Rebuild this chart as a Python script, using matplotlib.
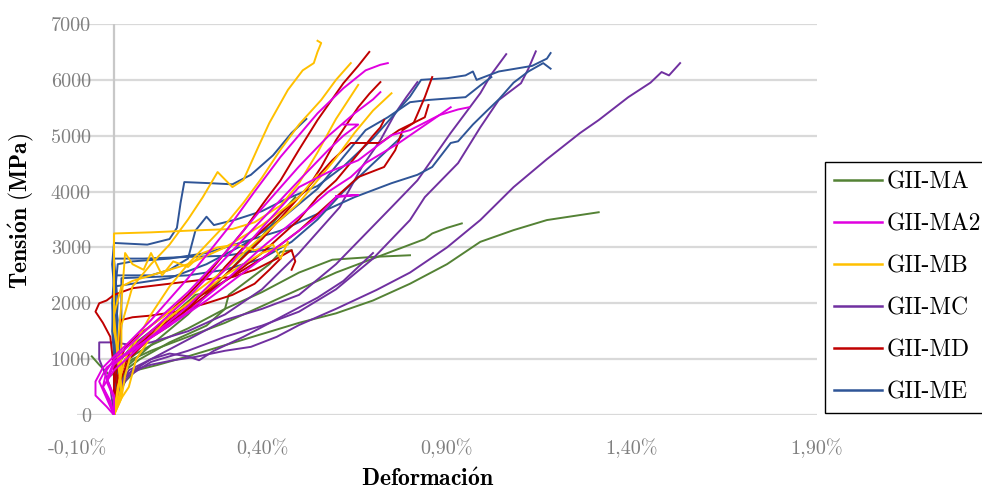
import matplotlib
matplotlib.use("Agg")
import matplotlib.pyplot as plt

plt.rcParams['font.family'] = ['cmr10', 'DejaVu Serif']
plt.rcParams['mathtext.fontset'] = 'cm'
plt.rcParams['axes.unicode_minus'] = False

# ==========================
# DATA  (strain in %, stress in MPa)
# ==========================
series_names = ["GII-MA", "GII-MA2", "GII-MB", "GII-MC", "GII-MD", "GII-ME"]
series_colors = ["#548235", "#E000E0", "#FFC000", "#7030A0", "#C00000", "#2F5597"]

x_ticks = [-0.1, 0.4, 0.9, 1.4, 1.9]
x_tick_labels = ["-0,10%", "0,40%", "0,90%", "1,40%", "1,90%"]
y_ticks = [0, 1000, 2000, 3000, 4000, 5000, 6000, 7000]
y_tick_labels = ["0", "1000", "2000", "3000", "4000", "5000", "6000", "7000"]

gii_ma = [
    ([0, 0.01, 0.03, 0.06, 0.12, 0.2, 0.3, 0.4, 0.5, 0.6, 0.7, 0.8, 0.9, 0.99, 1.08, 1.17, 1.26, 1.31],
     [0, 300, 600, 800, 900, 1050, 1250, 1450, 1650, 1820, 2050, 2350, 2700, 3100, 3310, 3490, 3580, 3630]),
    ([-0.06, -0.04, -0.01, 0.01, 0.05, 0.1, 0.2, 0.3, 0.4, 0.5, 0.6, 0.7, 0.8, 0.84, 0.86, 0.9, 0.94],
     [1050, 900, 700, 800, 1000, 1150, 1400, 1650, 1950, 2250, 2550, 2800, 3050, 3150, 3250, 3350, 3430]),
    ([0, 0.0, 0.02, 0.06, 0.1, 0.2, 0.3, 0.4, 0.5, 0.59, 0.7, 0.8],
     [0, 500, 900, 1100, 1250, 1550, 1900, 2200, 2550, 2780, 2830, 2860]),
    ([0, 0.01, 0.03, 0.07, 0.15, 0.25, 0.3, 0.31, 0.35, 0.42, 0.45, 0.48],
     [0, 400, 800, 1000, 1300, 1600, 1900, 2150, 2350, 2700, 2920, 2950]),
    ([0, 0.0, 0.02, 0.05, 0.1, 0.16, 0.22, 0.26],
     [0, 600, 1000, 1250, 1500, 1800, 2150, 2200]),
    ([0, 0.01, 0.04, 0.1, 0.2, 0.3, 0.4, 0.45, 0.49],
     [0, 500, 900, 1250, 1800, 2500, 3200, 3600, 3900]),
]

gii_ma2 = [
    ([0, -0.02, -0.05, -0.05, -0.03, 0.0, 0.04, 0.1, 0.2, 0.31, 0.38, 0.45, 0.55, 0.62, 0.68, 0.72, 0.74],
     [0, 150, 350, 600, 850, 1050, 1300, 1700, 2450, 3360, 4000, 4620, 5400, 5850, 6170, 6270, 6300]),
    ([0, -0.01, -0.03, -0.02, 0.0, 0.05, 0.1, 0.2, 0.3, 0.4, 0.5, 0.58, 0.65, 0.7, 0.72],
     [0, 200, 500, 800, 1000, 1300, 1600, 2200, 2900, 3700, 4450, 5000, 5400, 5650, 5780]),
    ([0, 0.0, -0.02, 0.0, 0.05, 0.1, 0.2, 0.3, 0.4, 0.5, 0.58, 0.62, 0.66, 0.62],
     [0, 300, 600, 900, 1200, 1500, 2100, 2800, 3500, 4200, 4750, 5000, 5200, 5200]),
    ([0, -0.01, -0.03, 0.0, 0.05, 0.1, 0.2, 0.3, 0.4, 0.5, 0.58, 0.66, 0.75, 0.80, 0.88, 0.93, 0.96],
     [0, 250, 500, 800, 1100, 1400, 1950, 2600, 3350, 4080, 4350, 4560, 5010, 5100, 5370, 5470, 5510]),
    ([0, 0.0, -0.02, 0.0, 0.05, 0.1, 0.2, 0.3, 0.4, 0.5, 0.58, 0.64, 0.68, 0.77, 0.86, 0.91],
     [0, 350, 650, 950, 1150, 1400, 1850, 2400, 3000, 3550, 4000, 4260, 4510, 4870, 5280, 5510]),
    ([0, -0.02, -0.04, -0.02, 0.02, 0.08, 0.15, 0.25, 0.35, 0.45, 0.55, 0.6, 0.66, 0.6],
     [0, 300, 600, 850, 1050, 1300, 1600, 2050, 2550, 3050, 3550, 3900, 3940, 3920]),
]

gii_mb = [
    ([0, 0.01, 0.02, 0.02, 0.05, 0.10, 0.15, 0.20, 0.24, 0.28, 0.32, 0.35, 0.39, 0.42, 0.47, 0.51, 0.54, 0.55, 0.56, 0.55],
     [0, 400, 800, 1600, 2300, 2700, 3050, 3500, 3900, 4350, 4080, 4210, 4800, 5230, 5820, 6170, 6300, 6500, 6660, 6700]),
    ([0, 0.01, 0.02, 0.0, 0.0, 0.0, 0.1, 0.2, 0.32, 0.38, 0.45, 0.5, 0.55, 0.6, 0.66],
     [0, 400, 900, 1500, 2500, 3250, 3270, 3300, 3330, 3450, 3750, 4150, 4700, 5300, 5910]),
    ([0, 0.02, 0.03, 0.05, 0.1, 0.15, 0.2, 0.25, 0.3, 0.35, 0.4, 0.45, 0.5, 0.56, 0.6, 0.64],
     [0, 300, 700, 1200, 1800, 2300, 2700, 3050, 3400, 3800, 4250, 4750, 5200, 5640, 6000, 6300]),
    ([0, 0.01, 0.03, 0.05, 0.1, 0.15, 0.2, 0.3, 0.4, 0.5, 0.55, 0.6, 0.65, 0.7, 0.75],
     [0, 500, 1000, 1300, 1600, 1850, 2100, 2600, 3200, 3800, 4200, 4600, 5050, 5450, 5760]),
    ([0, 0.02, 0.01, 0.02, 0.03, 0.05, 0.08, 0.1, 0.13, 0.16, 0.2, 0.24, 0.28, 0.33, 0.38, 0.43, 0.45, 0.47],
     [0, 500, 1200, 2000, 2900, 2700, 2600, 2900, 2500, 2750, 2650, 2900, 3000, 3050, 2950, 3050, 2800, 3100]),
    ([0, 0.02, 0.01, 0.0, 0.02, 0.05, 0.1, 0.2, 0.3, 0.4, 0.5, 0.55],
     [0, 400, 1000, 1800, 2300, 2400, 2500, 2700, 3000, 3400, 3900, 4300]),
    ([0, 0.02, 0.04, 0.06, 0.1, 0.14, 0.2, 0.3, 0.4, 0.47],
     [0, 300, 500, 1000, 1400, 1700, 2000, 2500, 2900, 3050]),
]

gii_mc = [
    ([0, 0.01, 0.02, 0.05, 0.1, 0.16, 0.22, 0.30, 0.37, 0.44, 0.50, 0.60, 0.71, 0.80, 0.90, 0.99, 1.08, 1.17, 1.26, 1.31, 1.39, 1.45, 1.48, 1.50, 1.53],
     [0, 300, 600, 800, 900, 980, 1040, 1150, 1220, 1400, 1610, 1900, 2240, 2550, 3000, 3490, 4080, 4580, 5050, 5280, 5690, 5950, 6140, 6080, 6300]),
    ([0, 0.01, 0.04, 0.1, 0.2, 0.3, 0.4, 0.5, 0.6, 0.7, 0.8, 0.84, 0.93, 0.99, 1.04, 1.10, 1.12, 1.14],
     [0, 400, 700, 950, 1150, 1400, 1600, 1850, 2250, 2800, 3490, 3900, 4510, 5150, 5640, 5940, 6200, 6510]),
    ([0, 0.0, 0.03, 0.1, 0.2, 0.3, 0.4, 0.5, 0.6, 0.75, 0.82, 0.91, 0.99, 1.02, 1.06],
     [0, 300, 700, 1000, 1350, 1700, 1900, 2150, 2700, 3720, 4200, 5050, 5760, 6100, 6460]),
    ([0, -0.01, -0.04, -0.04, 0.0, 0.05, 0.1, 0.2, 0.3, 0.4, 0.5, 0.61, 0.67, 0.72, 0.76, 0.79, 0.82],
     [0, 500, 1000, 1300, 1300, 1250, 1300, 1500, 1800, 2250, 2900, 3720, 4440, 4920, 5400, 5690, 5960]),
    ([0, 0.01, 0.04, 0.1, 0.15, 0.2, 0.23, 0.27, 0.35, 0.45, 0.55, 0.62, 0.7],
     [0, 400, 800, 1000, 1100, 1050, 980, 1150, 1400, 1750, 2100, 2400, 2900]),
]

gii_md = [
    ([0, 0.0, -0.01, -0.03, -0.05, -0.04, -0.02, 0.0, 0.02, 0.05, 0.15, 0.25, 0.32, 0.38, 0.44, 0.48, 0.49, 0.48],
     [0, 800, 1400, 1650, 1850, 2000, 2050, 2150, 2200, 2270, 2350, 2430, 2470, 2600, 2800, 2950, 2750, 2600]),
    ([0, 0.0, 0.01, 0.03, 0.06, 0.1, 0.15, 0.2, 0.25, 0.3, 0.35, 0.41, 0.45, 0.50, 0.55, 0.62, 0.66, 0.69],
     [0, 500, 900, 1200, 1400, 1600, 1850, 2150, 2500, 2900, 3300, 3850, 4200, 4750, 5280, 5940, 6250, 6500]),
    ([0, 0.01, 0.03, 0.08, 0.15, 0.2, 0.25, 0.3, 0.35, 0.4, 0.45, 0.52, 0.56, 0.60, 0.66, 0.69, 0.72],
     [0, 600, 1000, 1300, 1600, 1900, 2250, 2650, 3000, 3300, 3600, 4030, 4440, 4920, 5510, 5750, 5960]),
    ([0, 0.01, 0.05, 0.1, 0.2, 0.3, 0.4, 0.5, 0.6, 0.66, 0.73, 0.76, 0.78, 0.81, 0.84, 0.86],
     [0, 700, 1200, 1500, 2000, 2400, 2800, 3300, 3900, 4260, 4440, 4740, 5100, 5230, 5690, 6050]),
    ([0, 0.01, 0.04, 0.1, 0.2, 0.3, 0.4, 0.5, 0.59, 0.64, 0.72, 0.77, 0.84, 0.85],
     [0, 600, 1100, 1450, 1950, 2500, 3150, 3900, 4560, 4870, 4870, 5100, 5330, 5550]),
    ([0, 0.01, 0.04, 0.1, 0.2, 0.3, 0.4, 0.45, 0.5, 0.55, 0.6, 0.65, 0.7, 0.72, 0.73],
     [0, 500, 1000, 1400, 1900, 2400, 2900, 3200, 3500, 3900, 4200, 4600, 5000, 5150, 5280]),
    ([0, 0.0, 0.01, 0.02, 0.05, 0.1, 0.17, 0.25, 0.32, 0.38, 0.42, 0.45],
     [0, 700, 1200, 1700, 1750, 1780, 1850, 2000, 2150, 2350, 2600, 2800]),
]

gii_me = [
    ([0, 0.005, -0.005, 0.0, -0.005, 0.0, 0.09, 0.15, 0.17, 0.18, 0.19, 0.26, 0.32, 0.37, 0.43, 0.48, 0.52],
     [0, 800, 1500, 2300, 2700, 3080, 3050, 3150, 3350, 3800, 4170, 4150, 4130, 4300, 4650, 5050, 5300]),
    ([0, 0.0, -0.005, 0.0, 0.03, 0.1, 0.15, 0.2, 0.22, 0.25, 0.27, 0.33, 0.4, 0.46, 0.55, 0.62, 0.7, 0.76, 0.80, 0.83, 0.9, 0.95, 0.97, 0.98, 1.04, 1.13, 1.17, 1.18],
     [0, 1000, 2000, 2500, 2500, 2500, 2600, 2800, 3300, 3550, 3400, 3500, 3650, 3850, 4100, 4450, 4950, 5400, 5700, 6000, 6030, 6080, 6150, 6000, 6150, 6250, 6380, 6480]),
    ([0, 0.01, 0.0, 0.01, 0.05, 0.15, 0.25, 0.35, 0.45, 0.55, 0.65, 0.75, 0.82, 0.86, 0.91, 0.93, 0.97, 1.01, 1.04, 1.08, 1.12, 1.16, 1.18],
     [0, 1200, 2000, 2700, 2750, 2800, 2900, 3100, 3300, 3600, 3900, 4150, 4300, 4440, 4870, 4900, 5200, 5460, 5650, 5950, 6150, 6300, 6200]),
    ([0, 0.0, 0.01, 0.0, 0.08, 0.2, 0.3, 0.4, 0.45],
     [0, 1000, 2000, 2800, 2800, 2830, 2850, 2950, 3000]),
    ([0, 0.01, 0.02, 0.02, 0.1, 0.2, 0.3, 0.4, 0.48, 0.55, 0.62, 0.7, 0.78],
     [0, 800, 1600, 2450, 2470, 2500, 2600, 2800, 3100, 3500, 4000, 4500, 5000]),
    ([0, 0.0, 0.01, 0.0, 0.05, 0.15, 0.25, 0.35, 0.45, 0.55, 0.62, 0.68, 0.74, 0.80, 0.85, 0.95, 0.99, 1.02],
     [0, 800, 1700, 2300, 2350, 2450, 2700, 3050, 3500, 4050, 4620, 5100, 5330, 5600, 5640, 5690, 5900, 6050]),
]

all_series = [gii_ma, gii_ma2, gii_mb, gii_mc, gii_md, gii_me]
draw_order = [0, 3, 5, 4, 2, 1]

# ==========================
# FIGURE
# ==========================
W, H = 982, 491
fig = plt.figure(figsize=(W / 100, H / 100), dpi=100)
ax = fig.add_axes([77 / W, 1 - 415 / H, 740 / W, 391 / H])

for k in draw_order:
    color = series_colors[k]
    for i, (xs, ys) in enumerate(all_series[k]):
        ax.plot(xs, ys, color=color, lw=1.4, solid_joinstyle='round',
                label=series_names[k] if i == 0 else None, zorder=3)

ax.set_xlim(-0.1, 1.9)
ax.set_ylim(0, 7000)
ax.set_xticks(x_ticks)
ax.set_xticklabels(x_tick_labels)
ax.set_yticks(y_ticks)
ax.set_yticklabels(y_tick_labels)
ax.tick_params(axis='both', length=0, labelsize=14.5, colors='#808080')
ax.tick_params(axis='x', pad=17)
ax.tick_params(axis='y', pad=-10)

ax.yaxis.grid(True, color='#D9D9D9', lw=1.6)
ax.set_axisbelow(True)
ax.axvline(0, color='#C8C8C8', lw=1.6, zorder=1)
for s in ax.spines.values():
    s.set_visible(False)

fig.text(428 / W, 1 - 480 / H, r'$\mathbf{Deformaci\acute{o}n}$', ha='center', va='center', fontsize=17)
fig.text(21 / W, 1 - 211 / H, r'$\mathbf{Tensi\acute{o}n\ (MPa)}$', ha='center', va='center',
         rotation=90, fontsize=17)

# legend in fixed series order
handles, labels = ax.get_legend_handles_labels()
order = [labels.index(n) for n in series_names]
leg = ax.legend([handles[i] for i in order], [labels[i] for i in order],
                loc='upper left', bbox_to_anchor=(825 / W, 1 - 162 / H),
                bbox_transform=fig.transFigure, borderaxespad=0,
                fontsize=17, frameon=True, fancybox=False, framealpha=1,
                edgecolor='black', borderpad=0.4, handlelength=2.0,
                handletextpad=0.2, labelspacing=0.84)
leg.get_frame().set_linewidth(1.0)
for h in leg.get_lines():
    h.set_linewidth(1.8)

fig.savefig("out.png", dpi=100)
